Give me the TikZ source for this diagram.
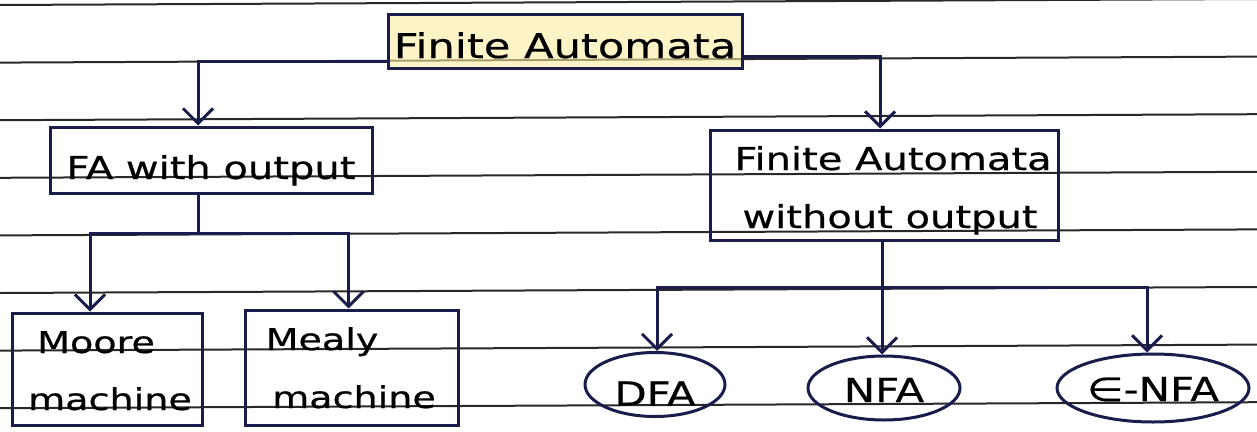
\documentclass[tikz,border=0pt]{standalone}
\usepackage{fontspec}
\usetikzlibrary{arrows.meta,shapes.geometric}
\newfontfamily\hand[FakeStretch=1.27,FakeBold=0.6]{DejaVu Sans}
\definecolor{ink}{RGB}{26,28,76}
\definecolor{ruling}{RGB}{40,40,40}
\definecolor{hilite}{RGB}{250,238,160}

\begin{document}
\begin{tikzpicture}[x=1pt,y=-1pt,
  box/.style={draw=ink, line width=3pt, rectangle, inner sep=0pt, text=black, text depth=0pt},
  oval/.style={draw=ink, line width=3pt, ellipse, inner sep=0pt, text=black, text depth=0pt,
               font=\hand\fontsize{33}{38}\selectfont},
  words/.style={inner sep=0pt, anchor=base, text=black},
  conn/.style={draw=ink, line width=3pt, line cap=round},
  arr/.style={conn, -{Straight Barb[length=15pt,width=30pt]}},
  paperline/.style={draw=ruling, line width=2pt}]

\useasboundingbox (0,0) rectangle (1257,431);
\fill[white] (0,0) rectangle (1257,431);

% ruled notebook paper
\foreach \i in {0,...,7}
  \draw[paperline] (0,{5+57.6*\i}) -- (1257,{-1+57.6*\i});

% boxes with one line of text
\node[box, fill=hilite, fill opacity=0.6, text opacity=1,
      minimum width=354pt, minimum height=54pt, text height=34pt,
      font=\hand\fontsize{34}{40}\selectfont] (fa) at (565,41) {Finite Automata};

\node[box, minimum width=322pt, minimum height=66pt, text height=38pt,
      font=\hand\fontsize{31.5}{40}\selectfont] (fawo) at (211,160) {FA with output};

% boxes with two lines of text
\node[box, minimum width=348pt, minimum height=110pt] (fawoo) at (884,185) {};
\node[words, font=\hand\fontsize{31.5}{40}\selectfont] (fawooA) at (893,170) {Finite Automata};
\node[words, font=\hand\fontsize{31.5}{40}\selectfont] (fawooB) at (890,228) {without output};

\node[box, minimum width=190pt, minimum height=112pt] (moore) at (107,369) {};
\node[words, font=\hand\fontsize{30}{40}\selectfont] (mooreA) at (96,353) {Moore};
\node[words, font=\hand\fontsize{30}{40}\selectfont] (mooreB) at (110,410) {machine};

\node[box, minimum width=213pt, minimum height=115pt] (mealy) at (351.5,367.5) {};
\node[words, font=\hand\fontsize{30}{40}\selectfont] (mealyA) at (322,350) {Mealy};
\node[words, font=\hand\fontsize{30}{40}\selectfont] (mealyB) at (354,408) {machine};

% ellipses
\node[oval, minimum width=140pt, minimum height=64pt, text height=42pt] (dfa) at (655,384.5) {DFA};
\node[oval, minimum width=152pt, minimum height=64pt, text height=28pt] (nfa) at (884,388) {NFA};
\node[oval, minimum width=192pt, minimum height=68pt, text height=26pt] (enfa) at (1153,388) {∈-NFA};

% top level connectors
\draw[arr] ([yshift=8pt]fa.south west) -| ([xshift=-13pt]fawo.north);
\draw[arr] ([yshift=13pt]fa.south east) -| ([xshift=-4pt]fawoo.north);

% FA with output branches
\coordinate (splitL) at (198,233);
\draw[conn] (fawo.south -| splitL) -- (splitL);
\draw[arr] (splitL) -| ([xshift=-17pt]moore.north);
\draw[arr] (splitL) -| ([xshift=-3pt]mealy.north);

% FA without output branches
\coordinate (splitR) at (882,287);
\draw[conn] (fawoo.south -| splitR) -- (splitR);
\draw[arr] (splitR) -| ([xshift=2pt]dfa.north);
\draw[arr] (splitR) -- (splitR |- nfa.north);
\draw[arr] (splitR) -| ([xshift=-6pt]enfa.north);
\end{tikzpicture}
\end{document}
